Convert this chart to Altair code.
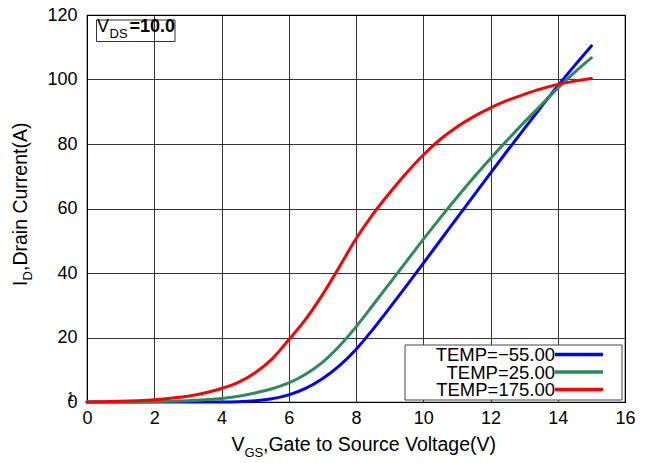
import altair as alt
import pandas as pd

# ---- data ----
vgs = [0.0, 0.5, 1.0, 1.5, 2.0, 2.5, 3.0, 3.5, 4.0, 4.5, 5.0, 5.5, 6.0, 6.5, 7.0, 7.5,
       8.0, 8.5, 9.0, 9.5, 10.0, 10.5, 11.0, 11.5, 12.0, 12.5, 13.0, 13.5, 14.0, 14.5, 15.0]
id_m55 = [0, 0, 0, 0, 0, 0, 0, 0, 0, 0.1, 0.4, 1.0, 2.2, 4.2, 7.2, 11.2,
          16.3, 22.5, 29.2, 36.0, 43.0, 50.0, 57.0, 64.0, 71.0, 77.9, 84.7, 91.4, 98.0, 104.3, 110.4]
id_25 = [0, 0, 0, 0, 0.1, 0.2, 0.4, 0.7, 1.1, 1.8, 2.8, 4.1, 5.9, 8.6, 12.3, 17.3,
         23.3, 30.0, 36.8, 43.6, 50.4, 57.0, 63.4, 69.6, 75.5, 81.2, 86.7, 92.0, 97.3, 102.2, 106.7]
id_175 = [0, 0.1, 0.2, 0.4, 0.7, 1.2, 1.8, 2.8, 4.2, 6.1, 9.1, 13.3, 19.3, 25.6, 33.2, 41.8,
          50.6, 58.2, 64.8, 71.0, 76.6, 81.4, 85.3, 88.5, 91.2, 93.5, 95.4, 97.1, 98.5, 99.5, 100.3]
temps = ["TEMP=\u221255.00", "TEMP=25.00", "TEMP=175.00"]
colors = ["#0000ff", "#2e8b57", "#ff0000"]
x_ticks = [0, 2, 4, 6, 8, 10, 12, 14, 16]
y_ticks = [0, 20, 40, 60, 80, 100, 120]

rows = []
for name, ys in zip(temps, [id_m55, id_25, id_175]):
    for xv, yv in zip(vgs, ys):
        rows.append({"vgs": xv, "id": yv, "series": name})
df = pd.DataFrame(rows)

W, H = 538, 387
FONT = "Liberation Sans"
one = pd.DataFrame({"k": [0]})


def txt(text, x, y, size=18, angle=0, weight="normal", align="left"):
    return alt.Chart(one).mark_text(
        text=text, font=FONT, fontSize=size, angle=angle, fontWeight=weight,
        align=align, baseline="alphabetic", color="black"
    ).encode(x=alt.value(x), y=alt.value(y))


lines = alt.Chart(df).mark_line(strokeWidth=3, interpolate="monotone", strokeCap="round").encode(
    x=alt.X("vgs:Q", scale=alt.Scale(domain=[0, 16], nice=False),
            axis=alt.Axis(values=x_ticks, title=None, labelPadding=7)),
    y=alt.Y("id:Q", scale=alt.Scale(domain=[0, 120], nice=False),
            axis=alt.Axis(values=y_ticks, title=None, labelPadding=10)),
    color=alt.Color("series:N", scale=alt.Scale(domain=temps, range=colors), legend=None),
    detail="series:N",
)

layers = [lines]

# axis titles with subscripts
layers += [
    txt("V", 144.5, 436, 19.5),
    txt("GS", 157.5, 441.5, 13),
    txt(",Gate to Source Voltage(V)", 176, 436, 19.5),
    txt("I", -60, 271, 19.5, angle=270),
    txt("D", -55, 265.5, 13, angle=270),
    txt(",Drain Current(A)", -60, 256, 19.5, angle=270),
    txt("1", -16.5, 386, 12, align="center"),
]

# VDS annotation box
layers.append(
    alt.Chart(one).mark_rect(fill=None, stroke="#333333", strokeWidth=1).encode(
        x=alt.value(9.5), x2=alt.value(88), y=alt.value(5), y2=alt.value(26.5))
)
layers += [
    txt("V", 10, 17, 18),
    txt("DS", 22.5, 23, 13),
    txt("=10.0", 42.5, 17, 18, weight="bold"),
]

# legend box
layers.append(
    alt.Chart(one).mark_rect(fill="white", stroke="#444444", strokeWidth=1).encode(
        x=alt.value(318), x2=alt.value(535), y=alt.value(330), y2=alt.value(385))
)
row_y = [339.5, 357, 374.5]
for name, col, ry in zip(temps, colors, row_y):
    layers.append(
        alt.Chart(one).mark_rule(color=col, strokeWidth=3.5).encode(
            x=alt.value(468), x2=alt.value(516), y=alt.value(ry))
    )
    layers.append(txt(name, 468, ry + 6.5, 18.5, align="right"))

chart = alt.layer(*layers).properties(
    width=W, height=H,
    autosize=alt.AutoSizeParams(type="none"),
    padding={"left": 79, "top": 7, "right": 14, "bottom": 60},
).configure_view(
    stroke="black", strokeWidth=1.2
).configure_axis(
    labelFont=FONT, labelFontSize=18, labelColor="black",
    ticks=False, domain=True, domainColor="black",
    grid=True, gridColor="#000000", gridOpacity=0.8, gridWidth=1,
    labelFlush=False, labelOverlap=False,
)

chart.save("out.html", embed_options={"renderer": "svg", "actions": False})
